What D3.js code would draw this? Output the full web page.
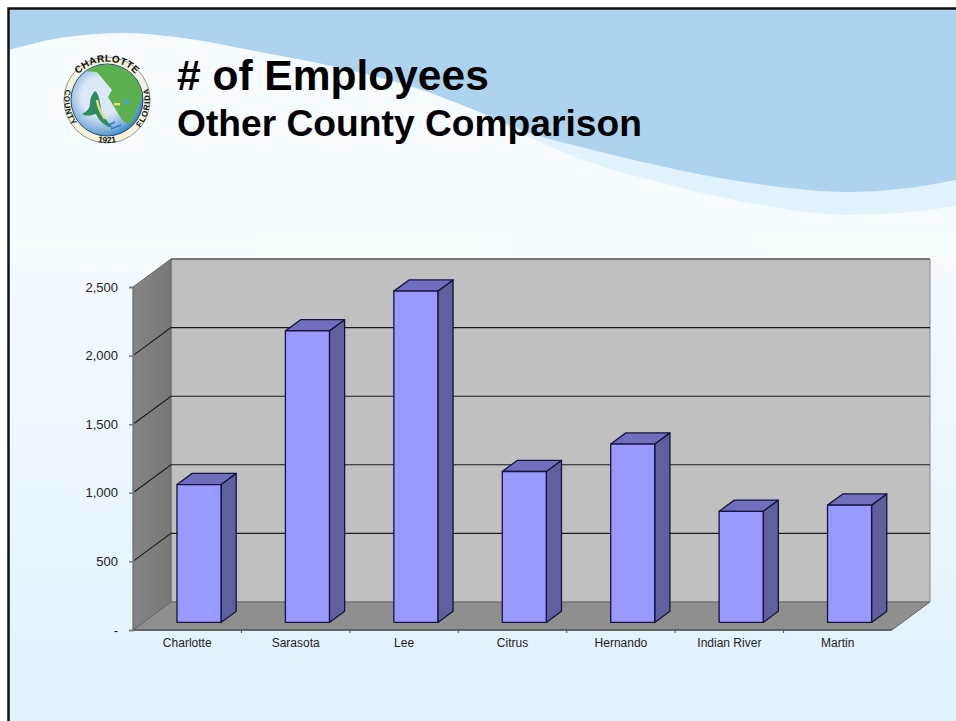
<!DOCTYPE html>
<html>
<head>
<meta charset="utf-8">
<script src="https://cdn.jsdelivr.net/npm/d3@7/dist/d3.min.js"></script>
<style>
html,body{margin:0;padding:0;background:#fff;overflow:hidden}
svg{display:block}
text{font-family:"Liberation Sans",Arial,sans-serif}
</style>
</head>
<body>
<svg id="slide" width="956" height="721"></svg>
<script>
// Chart data
const counties = ["Charlotte","Sarasota","Lee","Citrus","Hernando","Indian River","Martin"];
const employees = [1005,2125,2415,1100,1300,810,855];
const yTicks = [0,500,1000,1500,2000,2500];
const titleLines = ["# of Employees","Other County Comparison"];

const svg = d3.select("#slide");
const W = 956, H = 721;

// Projection of the 3-D plot box
const plot = {left:133,right:892,base:630,top:287,dx:38,dy:-28};
const x = d3.scaleBand().domain(counties).range([plot.left,plot.right]);
const y = d3.scaleLinear().domain([0,2500]).range([plot.base,plot.top]);
const px = (xv,z)=>xv+plot.dx*z;
const py = (yv,z)=>yv+plot.dy*z;
const poly = d3.line().curve(d3.curveLinearClosed);

// Slide background
const defs = svg.append("defs");
const bg = defs.append("linearGradient").attr("id","bg").attr("x1",0).attr("y1",0).attr("x2",0).attr("y2",1);
bg.append("stop").attr("offset",0.3).attr("stop-color","#f6fbff");
bg.append("stop").attr("offset",0.9).attr("stop-color","#e3f3fc");
const sideG = defs.append("linearGradient").attr("id","sideWall").attr("x1",0).attr("y1",0).attr("x2",1).attr("y2",0);
sideG.append("stop").attr("offset",0).attr("stop-color","#858585");
sideG.append("stop").attr("offset",1).attr("stop-color","#787878");

svg.append("rect").attr("x",8).attr("y",8).attr("width",W-8).attr("height",H-8).attr("fill","url(#bg)");

// Header swoosh
const smooth = d3.line().curve(d3.curveMonotoneX);
const lightWave = [[490,118],[547,145],[613,170],[663,183],[720,197],[780,208],[846,215],[900,213],[956,206]];
const mainWave = [[9,50],[60,38],[125,33],[190,39],[260,52],[340,68],[413,87],[467,107],[530,133],[593,150],[647,163],[720,178],[780,187],[846,192],[900,189],[956,180]];
svg.append("path").attr("d",smooth(lightWave)+"L956,8L490,8Z").attr("fill","#e0f2fc");
svg.append("path").attr("d",smooth(mainWave)+"L956,8L9,8Z").attr("fill","#aed3ef");

// Slide frame: top and left rules
svg.append("path").attr("d","M956,8.5H8.5V721").attr("fill","none").attr("stroke","#111").attr("stroke-width",2.5);

// County seal
const seal = svg.append("g").attr("transform","translate(107,100)");
seal.append("circle").attr("r",43).attr("fill","#f6f3dc").attr("stroke","#555").attr("stroke-width",0.6);
const ocean = defs.append("radialGradient").attr("id","ocean").attr("cx",0.42).attr("cy",0.45).attr("r",0.6);
ocean.append("stop").attr("offset",0.45).attr("stop-color","#dbe8f6");
ocean.append("stop").attr("offset",0.8).attr("stop-color","#7fb1da");
ocean.append("stop").attr("offset",1).attr("stop-color","#2f7fc0");
seal.append("circle").attr("r",36).attr("fill","url(#ocean)").attr("stroke","#1d4f78").attr("stroke-width",1);
const sealClip = defs.append("clipPath").attr("id","sealClip");
sealClip.append("circle").attr("cx",0).attr("cy",0).attr("r",35.5);
const land = seal.append("g").attr("clip-path","url(#sealClip)");
land.append("path")
  .attr("d","M-24,-29L-10,-28L5,-10L1,-3L15,20L23,25L33,3L36,-12L24,-38L-20,-38Z")
  .attr("fill","#5cb050");
land.append("circle").attr("cx",20).attr("cy",2).attr("r",2.4).attr("fill","#4f9fd8");
land.append("rect").attr("x",7).attr("y",3).attr("width",6).attr("height",2.4).attr("fill","#f0e060");
land.append("path")
  .attr("d","M-12,-9C-7,-6 -7,6 -5,12C-2,19 2,24 6,28C-2,26 -8,21 -11,14C-15,15 -20,17 -25,14C-19,11 -17,8 -17,3C-17,-2 -15,-6 -12,-9Z")
  .attr("fill","#2f8a62");
land.append("path").attr("d","M-10,0C-9,7 -6,13 -2,19").attr("stroke","#dfe07a").attr("stroke-width",2.4).attr("fill","none");
land.append("path").attr("d","M0,26L8,22M4,29L14,25").attr("stroke","#2f7fc0").attr("stroke-width",1.5).attr("fill","none");

// Lettering on the ring
defs.append("path").attr("id","sealUpper").attr("d","M-38,-6A38.5,38.5 0 0 1 38,-6");
defs.append("path").attr("id","sealLower").attr("d","M-40,-15A42.8,42.8 0 1 0 40,-15");
const sealText = (label,href,offset,size,spacing)=>seal.append("text")
  .attr("font-size",size).attr("font-weight","bold").attr("fill","#111")
  .attr("text-anchor","middle").attr("letter-spacing",spacing)
  .append("textPath").attr("href",href).attr("startOffset",offset).text(label);
sealText("CHARLOTTE","#sealUpper","50%",10,0.3);
sealText("COUNTY","#sealLower","14.5%",8,0.8);
sealText("FLORIDA","#sealLower","85.5%",8,1);
sealText("1921","#sealLower","50%",8.5,0);

// Titles
const titles = svg.append("g").attr("fill","#000").attr("font-weight","bold");
titles.append("text").attr("x",177).attr("y",90).attr("font-size",42.5).text(titleLines[0]);
titles.append("text").attr("x",177).attr("y",136).attr("font-size",37.2).text(titleLines[1]);

// Back wall, side wall and floor
const chart = svg.append("g");
chart.append("path")
  .attr("d",poly([[px(plot.left,1),py(plot.top,1)],[px(plot.right,1),py(plot.top,1)],[px(plot.right,1),py(plot.base,1)],[px(plot.left,1),py(plot.base,1)]]))
  .attr("fill","#c0c0c0").attr("stroke","#8a8a8a");
chart.append("path")
  .attr("d",poly([[px(plot.left,0),py(plot.top,0)],[px(plot.left,1),py(plot.top,1)],[px(plot.left,1),py(plot.base,1)],[px(plot.left,0),py(plot.base,0)]]))
  .attr("fill","url(#sideWall)").attr("stroke","#666");
chart.append("path")
  .attr("d",poly([[px(plot.left,0),py(plot.base,0)],[px(plot.left,1),py(plot.base,1)],[px(plot.right,1),py(plot.base,1)],[px(plot.right,0),py(plot.base,0)]]))
  .attr("fill","#8f8f8f").attr("stroke","#666");
chart.append("path")
  .attr("d",`M${px(plot.left,1)},${py(plot.top,1)}H${px(plot.right,1)}`)
  .attr("stroke","#666").attr("stroke-width",1.5);
chart.append("path")
  .attr("d",`M${plot.left},${plot.base}H${plot.right}`)
  .attr("stroke","#555").attr("stroke-width",1.5);

// Gridlines across the side and back walls
chart.selectAll("path.grid").data(yTicks.filter(t=>t>0&&t<2500)).join("path").attr("class","grid")
  .attr("d",t=>d3.line()([[plot.left,y(t)],[px(plot.left,1),py(y(t),1)],[px(plot.right,1),py(y(t),1)]]))
  .attr("fill","none").attr("stroke","#1a1a1a").attr("stroke-width",1.1);

// Axes
const fmt = d3.format(",");
const yAxis = d3.axisLeft(y).tickValues(yTicks).tickSize(4).tickPadding(11)
  .tickFormat(d=>d===0?"-":fmt(d));
const yg = chart.append("g").attr("transform",`translate(${plot.left},0)`).call(yAxis);
yg.selectAll("path,line").attr("stroke","#777").attr("stroke-width",1.5);
yg.selectAll("text").attr("font-size",13).attr("fill","#222").attr("font-family",'"Liberation Sans",Arial,sans-serif');

const xAxis = d3.axisBottom(x).tickSize(0).tickPadding(8);
const xg = chart.append("g").attr("transform",`translate(0,${plot.base})`).call(xAxis);
xg.select("path.domain").remove();
xg.selectAll("text").attr("font-size",12).attr("fill","#222").attr("font-family",'"Liberation Sans",Arial,sans-serif');
chart.selectAll("line.xtick").data(x.domain().slice(1)).join("line").attr("class","xtick")
  .attr("x1",d=>x(d)).attr("x2",d=>x(d)).attr("y1",plot.base).attr("y2",plot.base+3)
  .attr("stroke","#555");

// 3-D columns: a front face, a side face and a lid
const zFront = 0.27, zBack = 0.67;
const barLeft = d=>x(d)+x.bandwidth()*0.311;
const barRight = d=>x(d)+x.bandwidth()*0.717;
const bars = chart.selectAll("g.column").data(counties.map((c,i)=>({c,v:employees[i]}))).join("g").attr("class","column")
  .attr("stroke","#14143c").attr("stroke-width",1.3).attr("stroke-linejoin","round");
const corner = (xv,yv,z)=>[px(xv,z),py(yv,z)];
bars.append("path").attr("fill","#60609f")
  .attr("d",d=>poly([corner(barRight(d.c),y(d.v),zFront),corner(barRight(d.c),y(d.v),zBack),corner(barRight(d.c),y(0),zBack),corner(barRight(d.c),y(0),zFront)]));
bars.append("path").attr("fill","#6f6fbd")
  .attr("d",d=>poly([corner(barLeft(d.c),y(d.v),zFront),corner(barLeft(d.c),y(d.v),zBack),corner(barRight(d.c),y(d.v),zBack),corner(barRight(d.c),y(d.v),zFront)]));
bars.append("path").attr("fill","#9999ff")
  .attr("d",d=>poly([corner(barLeft(d.c),y(d.v),zFront),corner(barRight(d.c),y(d.v),zFront),corner(barRight(d.c),y(0),zFront),corner(barLeft(d.c),y(0),zFront)]));
</script>
</body>
</html>
